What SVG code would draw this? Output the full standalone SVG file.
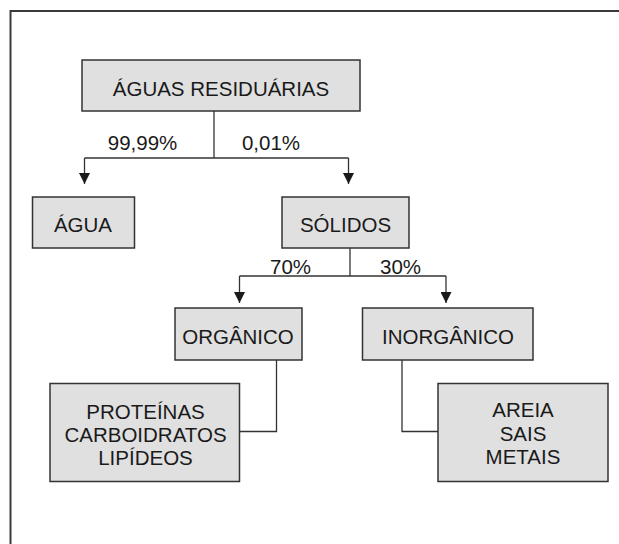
<svg xmlns="http://www.w3.org/2000/svg" width="619" height="544" viewBox="0 0 619 544">
<defs>
<style>
.box{fill:#e0e0e0;stroke:#333;stroke-width:1.5}
.t{font-family:"Liberation Sans",Arial,sans-serif;font-size:20.5px;fill:#1a1a1a;text-anchor:middle}
.c{fill:none;stroke:#333;stroke-width:1.3}
.frame{fill:none;stroke:#3a3a3a;stroke-width:2}
</style>
<marker id="arr" viewBox="0 0 11 11" refX="11" refY="5.5" markerWidth="11" markerHeight="11" markerUnits="userSpaceOnUse" orient="auto">
<path d="M0,0 L11,5.5 L0,11 Z" fill="#1a1a1a"/>
</marker>
</defs>
<rect x="0" y="0" width="619" height="544" fill="#fff"/>
<path class="frame" d="M10.5,560 V11 H640"/>
<g id="connectors">
<path class="c" d="M214,111 V158"/>
<path class="c" d="M84.5,158 H348.5"/>
<path class="c" d="M84.5,158 V184" marker-end="url(#arr)"/>
<path class="c" d="M348.5,158 V184" marker-end="url(#arr)"/>
<path class="c" d="M350,248 V276"/>
<path class="c" d="M239.5,276 H446"/>
<path class="c" d="M239.5,276 V303" marker-end="url(#arr)"/>
<path class="c" d="M446,276 V303" marker-end="url(#arr)"/>
<path class="c" d="M276.5,360 V431.5 H239.5"/>
<path class="c" d="M402,360 V431.5 H438"/>
<text class="t" x="142.5" y="150">99,99%</text>
<text class="t" x="271" y="150">0,01%</text>
<text class="t" x="290.5" y="274">70%</text>
<text class="t" x="400.5" y="274">30%</text>
</g>
<g id="aguas-residuarias">
<rect class="box" x="82" y="60" width="278" height="51"/>
<text class="t" x="221" y="96">ÁGUAS RESIDUÁRIAS</text>
</g>
<g id="agua">
<rect class="box" x="32.5" y="197" width="102" height="51"/>
<text class="t" x="83" y="232">ÁGUA</text>
</g>
<g id="solidos">
<rect class="box" x="282" y="197" width="127" height="51"/>
<text class="t" x="345.5" y="232">SÓLIDOS</text>
</g>
<g id="organico">
<rect class="box" x="175" y="308" width="127" height="52"/>
<text class="t" x="238" y="344">ORGÂNICO</text>
</g>
<g id="inorganico">
<rect class="box" x="362.5" y="308" width="170.5" height="52"/>
<text class="t" x="448" y="344">INORGÂNICO</text>
</g>
<g id="organicos-lista">
<rect class="box" x="50" y="383.5" width="189.5" height="98"/>
<text class="t" x="145.5" y="419">PROTEÍNAS</text>
<text class="t" x="145.5" y="442">CARBOIDRATOS</text>
<text class="t" x="145.5" y="465">LIPÍDEOS</text>
</g>
<g id="inorganicos-lista">
<rect class="box" x="438" y="383.5" width="170" height="98"/>
<text class="t" x="523" y="417">AREIA</text>
<text class="t" x="523" y="441">SAIS</text>
<text class="t" x="523" y="464">METAIS</text>
</g>
</svg>
